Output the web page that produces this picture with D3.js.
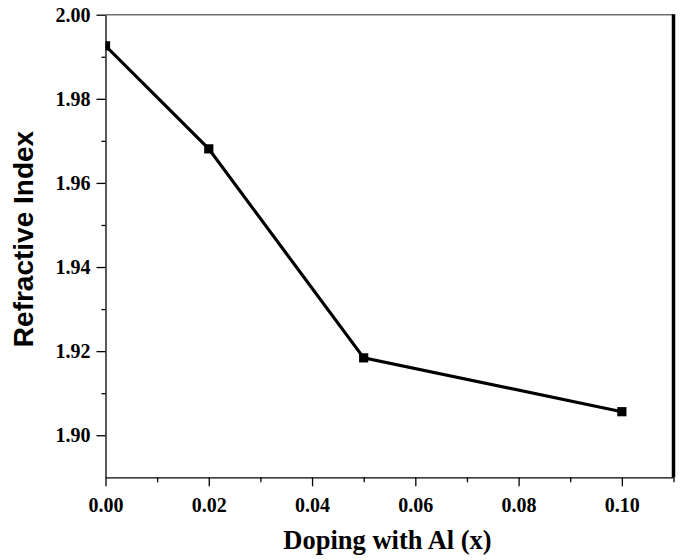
<!DOCTYPE html>
<html>
<head>
<meta charset="utf-8">
<script src="https://cdn.jsdelivr.net/npm/d3@7"></script>
<style>
  body { margin: 0; background: #fff; }
  svg { display: block; }
  .tick text { font-family: "Liberation Serif", "Times New Roman", serif; font-weight: bold; font-size: 20px; fill: #000; }
</style>
</head>
<body>
<div id="chart"></div>
<script>
const doping = [0, 0.02, 0.05, 0.10];
const refractiveIndex = [1.9926, 1.9681, 1.9184, 1.9056];
const xMajorTicks = [0, 0.02, 0.04, 0.06, 0.08, 0.10];
const xMinorTicks = [0.01, 0.03, 0.05, 0.07, 0.09, 0.11];
const yMajorTicks = [1.90, 1.92, 1.94, 1.96, 1.98, 2.00];
const yMinorTicks = [1.91, 1.93, 1.95, 1.97, 1.99];

const width = 685, height = 560;
const margin = { top: 14.7, right: 11.5, bottom: 82.7, left: 105.5 };
const innerW = width - margin.left - margin.right;
const innerH = height - margin.top - margin.bottom;

const svg = d3.select("#chart").append("svg")
  .attr("width", width)
  .attr("height", height);

const g = svg.append("g")
  .attr("transform", `translate(${margin.left},${margin.top})`);

const x = d3.scaleLinear().domain([0, 0.11]).range([0, innerW]);
const y = d3.scaleLinear().domain([1.89, 2.00]).range([innerH, 0]);

svg.append("defs").append("clipPath")
  .attr("id", "plot-clip")
  .append("rect")
  .attr("width", innerW)
  .attr("height", innerH);

// top frame line (grey) and thick right frame line
g.append("line")
  .attr("x1", 0).attr("x2", innerW)
  .attr("y1", 0).attr("y2", 0)
  .attr("stroke", "#6e6e6e")
  .attr("stroke-width", 1.5);

g.append("line")
  .attr("x1", innerW).attr("x2", innerW)
  .attr("y1", -0.5).attr("y2", innerH)
  .attr("stroke", "#000")
  .attr("stroke-width", 3.5);

// minor ticks
g.append("g")
  .attr("transform", `translate(0,${innerH})`)
  .call(d3.axisBottom(x).tickValues(xMinorTicks).tickSize(5).tickFormat(""))
  .call(s => s.select(".domain").remove());

g.append("g")
  .call(d3.axisLeft(y).tickValues(yMinorTicks).tickSize(4).tickFormat(""))
  .call(s => s.select(".domain").remove());

// major axes
const xAxis = g.append("g")
  .attr("transform", `translate(0,${innerH})`)
  .call(d3.axisBottom(x).tickValues(xMajorTicks).tickSize(9).tickSizeOuter(0).tickPadding(7)
    .tickFormat(d3.format(".2f")));

const yAxis = g.append("g")
  .call(d3.axisLeft(y).tickValues(yMajorTicks).tickSize(9).tickSizeOuter(0).tickPadding(6)
    .tickFormat(d3.format(".2f")));

g.selectAll(".domain").attr("stroke", "#000").attr("stroke-width", 1.3);
g.selectAll(".tick line").attr("stroke", "#000").attr("stroke-width", 1.3);
xAxis.selectAll(".tick text").attr("dy", "0.95em");

// data
const pts = doping.map((d, i) => ({ x: d, y: refractiveIndex[i] }));
const plot = g.append("g").attr("clip-path", "url(#plot-clip)");

plot.append("path")
  .datum(pts)
  .attr("fill", "none")
  .attr("stroke", "#000")
  .attr("stroke-width", 3.2)
  .attr("stroke-linejoin", "miter")
  .attr("d", d3.line().x(d => x(d.x)).y(d => y(d.y)));

plot.selectAll("rect.marker")
  .data(pts)
  .join("rect")
  .attr("class", "marker")
  .attr("x", d => x(d.x) - 4.6)
  .attr("y", d => y(d.y) - 4.6)
  .attr("width", 9.2)
  .attr("height", 9.2)
  .attr("fill", "#000");

// axis titles
svg.append("text")
  .attr("x", 387.5)
  .attr("y", 549)
  .attr("text-anchor", "middle")
  .style("font-family", "'Liberation Serif', 'Times New Roman', serif")
  .style("font-weight", "bold")
  .style("font-size", "26.5px")
  .text("Doping with Al (x)");

svg.append("text")
  .attr("transform", "translate(33,239) rotate(-90)")
  .attr("text-anchor", "middle")
  .style("font-family", "'Liberation Sans', Arial, sans-serif")
  .style("font-weight", "bold")
  .style("font-size", "28px")
  .text("Refractive Index");
</script>
</body>
</html>
